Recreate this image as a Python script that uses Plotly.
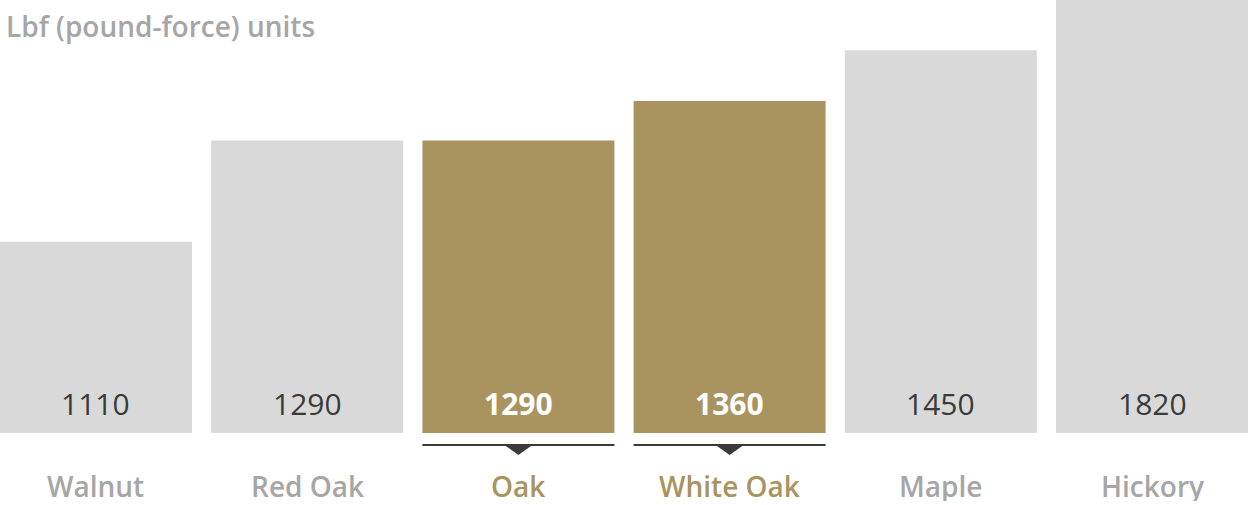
import plotly.graph_objects as go

# Janka hardness, lbf
woods = ['Walnut', 'Red Oak', 'Oak', 'White Oak', 'Maple', 'Hickory']
hardness = [1110, 1290, 1290, 1360, 1450, 1820]
highlight = ['Oak', 'White Oak']

GRAY_BAR = '#d9d9d9'
GOLD = '#a99460'
LABEL_GRAY = '#a6a6a6'
DARK = '#3a3a3a'
FONT = 'Open Sans'

bar_w = 0.909
xs = list(range(len(woods)))
colors = [GOLD if w in highlight else GRAY_BAR for w in woods]

fig = go.Figure()
fig.add_trace(go.Bar(
    x=xs, y=hardness, width=bar_w,
    marker=dict(color=colors, line=dict(width=0)),
    hoverinfo='skip',
))

annotations = []
shapes = []
for i, (w, v) in enumerate(zip(woods, hardness)):
    hi = w in highlight
    # value inside the bar, near the bottom
    annotations.append(dict(
        x=i, y=0.067, xref='x', yref='paper', text=str(v),
        showarrow=False, yanchor='middle',
        font=dict(family=FONT, size=30, color='white' if hi else DARK,
                  weight=700 if hi else 400),
    ))
    # wood name under the bar (fixed box height keeps it inside the page)
    annotations.append(dict(
        x=i, y=-0.1224, xref='x', yref='paper', text=w,
        showarrow=False, yanchor='middle', height=30, valign='middle',
        font=dict(family=FONT, size=28, color=GOLD if hi else LABEL_GRAY, weight=600),
    ))
    if hi:
        shapes.append(dict(
            type='line', xref='x', yref='paper',
            x0=i - bar_w / 2, x1=i + bar_w / 2, y0=-0.0277, y1=-0.0277,
            line=dict(color=DARK, width=2),
        ))
        shapes.append(dict(
            type='path', xref='x', yref='paper', xsizemode='pixel', ysizemode='pixel',
            xanchor=i, yanchor=-0.0277,
            path='M -14 0 L 14 0 L 0 -10 Z',
            fillcolor=DARK, line=dict(width=0),
        ))

annotations.append(dict(
    x=0.003, y=1.0, xref='paper', yref='paper', text='Lbf (pound-force) units',
    showarrow=False, xanchor='left', yanchor='top', yshift=-5,
    font=dict(family=FONT, size=28, color=LABEL_GRAY, weight=600),
))

fig.update_layout(
    width=1248, height=505,
    margin=dict(l=0, r=0, t=0, b=72),
    plot_bgcolor='white', paper_bgcolor='white',
    showlegend=False,
    xaxis=dict(range=[-bar_w / 2, len(woods) - 1 + bar_w / 2], visible=False, fixedrange=True),
    yaxis=dict(range=[771, 1539], visible=False, fixedrange=True),
    annotations=annotations,
    shapes=shapes,
)

# page margin off so the figure sits at the window's corner
fig.write_html('out.html', config={'displayModeBar': False},
               post_script="document.body.style.margin='0px';")
